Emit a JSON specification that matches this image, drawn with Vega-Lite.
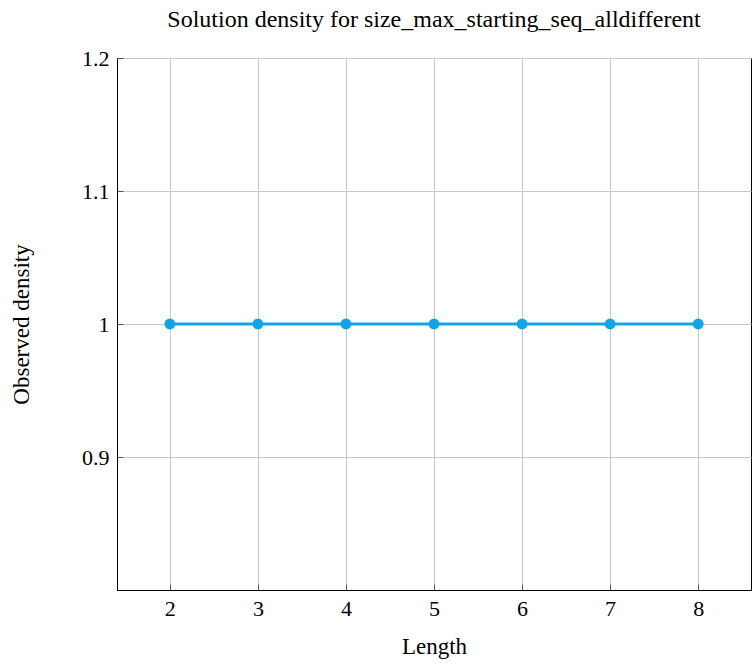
{
  "$schema": "https://vega.github.io/schema/vega-lite/v6.json",
  "width": 634,
  "height": 532,
  "autosize": {"type": "none"},
  "padding": {"left": 117, "top": 58, "right": 1, "bottom": 76},
  "background": "white",
  "title": {
    "text": "Solution density for size_max_starting_seq_alldifferent",
    "font": "Liberation Serif",
    "fontSize": 24,
    "fontWeight": "normal",
    "color": "#000",
    "offset": 15,
    "anchor": "middle"
  },
  "data": {
    "values": [
      {"length": 2, "density": 1},
      {"length": 3, "density": 1},
      {"length": 4, "density": 1},
      {"length": 5, "density": 1},
      {"length": 6, "density": 1},
      {"length": 7, "density": 1},
      {"length": 8, "density": 1}
    ]
  },
  "encoding": {
    "x": {
      "field": "length",
      "type": "quantitative",
      "scale": {"domain": [1.4, 8.6], "nice": false, "zero": false},
      "axis": {
        "title": "Length",
        "values": [2, 3, 4, 5, 6, 7, 8],
        "format": "d",
        "titlePadding": 16
      }
    },
    "y": {
      "field": "density",
      "type": "quantitative",
      "scale": {"domain": [0.8, 1.2], "nice": false, "zero": false},
      "axis": {
        "title": "Observed density",
        "values": [0.9, 1, 1.1, 1.2],
        "format": ".1~f",
        "titlePadding": 48
      }
    }
  },
  "layer": [
    {"mark": {"type": "line", "color": "#12a4e4", "strokeWidth": 3}},
    {"mark": {"type": "point", "filled": true, "color": "#12a4e4", "size": 120, "opacity": 1}}
  ],
  "config": {
    "view": {"stroke": "#000", "strokeWidth": 1},
    "axis": {
      "labelFont": "Liberation Serif",
      "titleFont": "Liberation Serif",
      "labelFontSize": 22,
      "titleFontSize": 23,
      "titleFontWeight": "normal",
      "labelColor": "#000",
      "titleColor": "#000",
      "domainColor": "#000",
      "gridColor": "#c8c8c8",
      "gridOpacity": 1,
      "tickColor": "#555",
      "tickSize": -6,
      "labelPadding": 14
    }
  }
}
